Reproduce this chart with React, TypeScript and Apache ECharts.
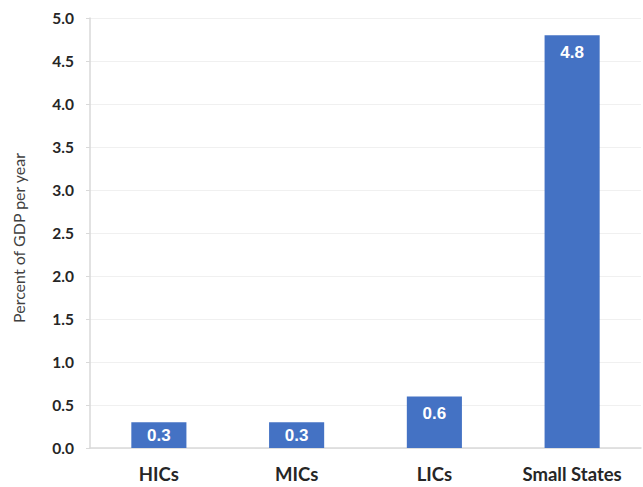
import React, { useEffect, useRef } from "react";
import * as echarts from "echarts";

const categories = ["HICs", "MICs", "LICs", "Small States"];
const values = [0.3, 0.3, 0.6, 4.8];
const yAxisTitle = "Percent of GDP per year";

export default function App() {
  const ref = useRef<HTMLDivElement>(null);
  useEffect(() => {
    if (!ref.current) return;
    const chart = echarts.init(ref.current, undefined, { renderer: "svg" });
    const font = "Lato, 'Open Sans', 'Noto Sans', sans-serif";
    const labelFont = "'Liberation Sans', Arial, sans-serif";
    chart.setOption({
      animation: false,
      grid: { left: 90, right: 2, top: 18, bottom: 39 },
      xAxis: {
        type: "category",
        data: categories,
        axisLine: { show: true, lineStyle: { color: "#d9d9d9", width: 1.5 } },
        axisTick: { show: false },
        axisLabel: {
          interval: 0,
          hideOverlap: false,
          color: "#262626",
          fontFamily: font,
          fontWeight: "bold",
          fontSize: 18.5,
          margin: 16,
        },
      },
      yAxis: {
        type: "value",
        min: 0,
        max: 5,
        interval: 0.5,
        name: yAxisTitle,
        nameLocation: "middle",
        nameGap: 64,
        nameTextStyle: { color: "#404040", fontFamily: font, fontSize: 16, padding: [0, 0, 0, -10] },
        axisLine: { show: true, lineStyle: { color: "#d9d9d9", width: 1.5 } },
        axisTick: { show: true, length: 4, lineStyle: { color: "#d9d9d9" } },
        splitLine: { show: true, lineStyle: { color: "#f0f0f0" } },
        axisLabel: {
          color: "#262626",
          fontFamily: font,
          fontWeight: "bold",
          fontSize: 15.5,
          margin: 16,
          formatter: (v: number) => v.toFixed(1),
        },
      },
      series: [
        {
          type: "bar",
          barWidth: "40%",
          itemStyle: { color: "#4472C4" },
          data: values.map((v) => ({
            value: v,
            label: { position: v < 0.5 ? "inside" : "insideTop", distance: 9 },
          })),
          label: {
            show: true,
            color: "#ffffff",
            fontFamily: labelFont,
            fontWeight: "bold",
            fontSize: 17,
            formatter: (p: any) => Number(p.value).toFixed(1),
          },
        },
      ],
    });
    return () => chart.dispose();
  }, []);
  return (
    <div
      ref={ref}
      style={{ position: "fixed", left: 0, top: 0, width: 643, height: 487, background: "#fff" }}
    />
  );
}
